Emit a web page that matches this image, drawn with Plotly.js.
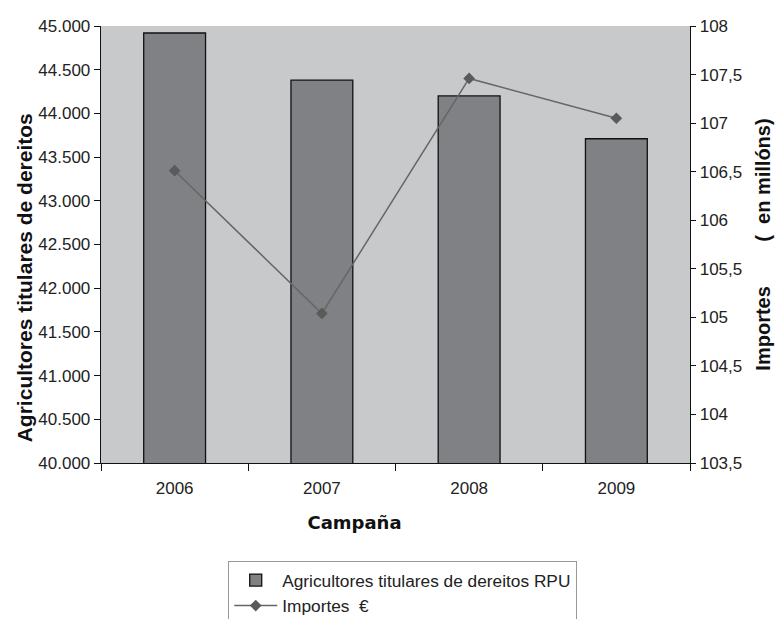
<!DOCTYPE html>
<html>
<head>
<meta charset="utf-8">
<script src="https://cdn.plot.ly/plotly-3.0.1.min.js"></script>
<style>html,body{margin:0;padding:0;background:#fff;}#chart{width:775px;height:619px;}</style>
</head>
<body>
<div id="chart"></div>
<script>
const campanas = ["2006", "2007", "2008", "2009"];
const agricultores = [44920, 44380, 44200, 43710];
const importes = [106.51, 105.04, 107.46, 107.05];
const leftTicks = [40000, 40500, 41000, 41500, 42000, 42500, 43000, 43500, 44000, 44500, 45000];
const rightTicks = [103.5, 104, 104.5, 105, 105.5, 106, 106.5, 107, 107.5, 108];

const font = "Liberation Sans, Arial, sans-serif";
const nb = "\u00a0";
const pad = (s) => '<span style="color:rgba(0,0,0,0)">' + s + '</span>';

const traces = [
  {
    type: "bar",
    name: "Agricultores titulares de dereitos RPU",
    x: campanas,
    y: agricultores,
    marker: {color: "#808184", line: {color: "#111111", width: 1.3}},
    yaxis: "y"
  },
  {
    type: "scatter",
    mode: "lines+markers",
    name: "Importes  €",
    x: campanas,
    y: importes,
    line: {color: "#666666", width: 1.5},
    marker: {symbol: "diamond", size: 9, color: "#5a5a5a"},
    yaxis: "y2"
  }
];

const layout = {
  width: 775,
  height: 619,
  margin: {l: 101, r: 85, t: 26, b: 156, autoexpand: false},
  paper_bgcolor: "#ffffff",
  plot_bgcolor: "#c8c9cb",
  separators: ",.",
  font: {family: font, size: 17, color: "#222222"},
  bargap: 0.58,
  showlegend: true,
  legend: {
    x: 0.216, xanchor: "left", y: -0.225, yanchor: "top",
    orientation: "v",
    bordercolor: "#999999", borderwidth: 1,
    bgcolor: "#ffffff",
    font: {family: font, size: 17.3, color: "#222"},
    itemwidth: 43,
    tracegroupgap: 0
  },
  xaxis: {
    type: "category",
    showgrid: false,
    showline: true, linecolor: "#111", linewidth: 1.3,
    ticks: "outside", tickson: "boundaries", ticklen: 7, tickcolor: "#111",
    ticklabelstandoff: 9,
    tickfont: {family: font, size: 17, color: "#222"},
    title: {text: "Campaña" + pad("Campañ"), font: {family: "DejaVu Sans, sans-serif", size: 18, color: "#111", weight: "bold"}, standoff: 19}
  },
  yaxis: {
    range: [40000, 45000],
    tickvals: leftTicks,
    tickformat: ",d",
    showgrid: false, zeroline: false,
    showline: true, linecolor: "#111", linewidth: 1.3,
    ticks: "outside", ticklen: 6, tickcolor: "#111",
    tickfont: {family: font, size: 17, color: "#222"},
    title: {text: "Agricultores titulares de dereitos" + pad("Agricu"), font: {family: font, size: 21, color: "#111", weight: "bold"}, standoff: 0}
  },
  yaxis2: {
    range: [103.5, 108],
    tickvals: rightTicks,
    overlaying: "y", side: "right",
    showgrid: false, zeroline: false,
    showline: true, linecolor: "#111", linewidth: 1.3,
    ticks: "outside", ticklen: 5, tickcolor: "#111",
    tickfont: {family: font, size: 17, color: "#222"},
    title: {text: "Importes" + nb.repeat(8) + "(" + nb + nb + "en millóns)", font: {family: font, size: 20, color: "#111", weight: "bold"}, standoff: 14}
  },
  yaxis3: {
    range: [103.5, 108],
    tickvals: rightTicks,
    overlaying: "y", side: "right", anchor: "x",
    showgrid: false, zeroline: false, showline: false,
    ticks: "inside", ticklen: 5, tickcolor: "#111",
    showticklabels: false
  },
  yaxis4: {
    range: [40000, 45000],
    tickvals: leftTicks,
    overlaying: "y", side: "left", anchor: "x",
    showgrid: false, zeroline: false, showline: false,
    ticks: "inside", ticklen: 4, tickcolor: "#111",
    showticklabels: false
  }
};

Plotly.newPlot("chart", traces, layout, {displayModeBar: false, staticPlot: true});
</script>
</body>
</html>
